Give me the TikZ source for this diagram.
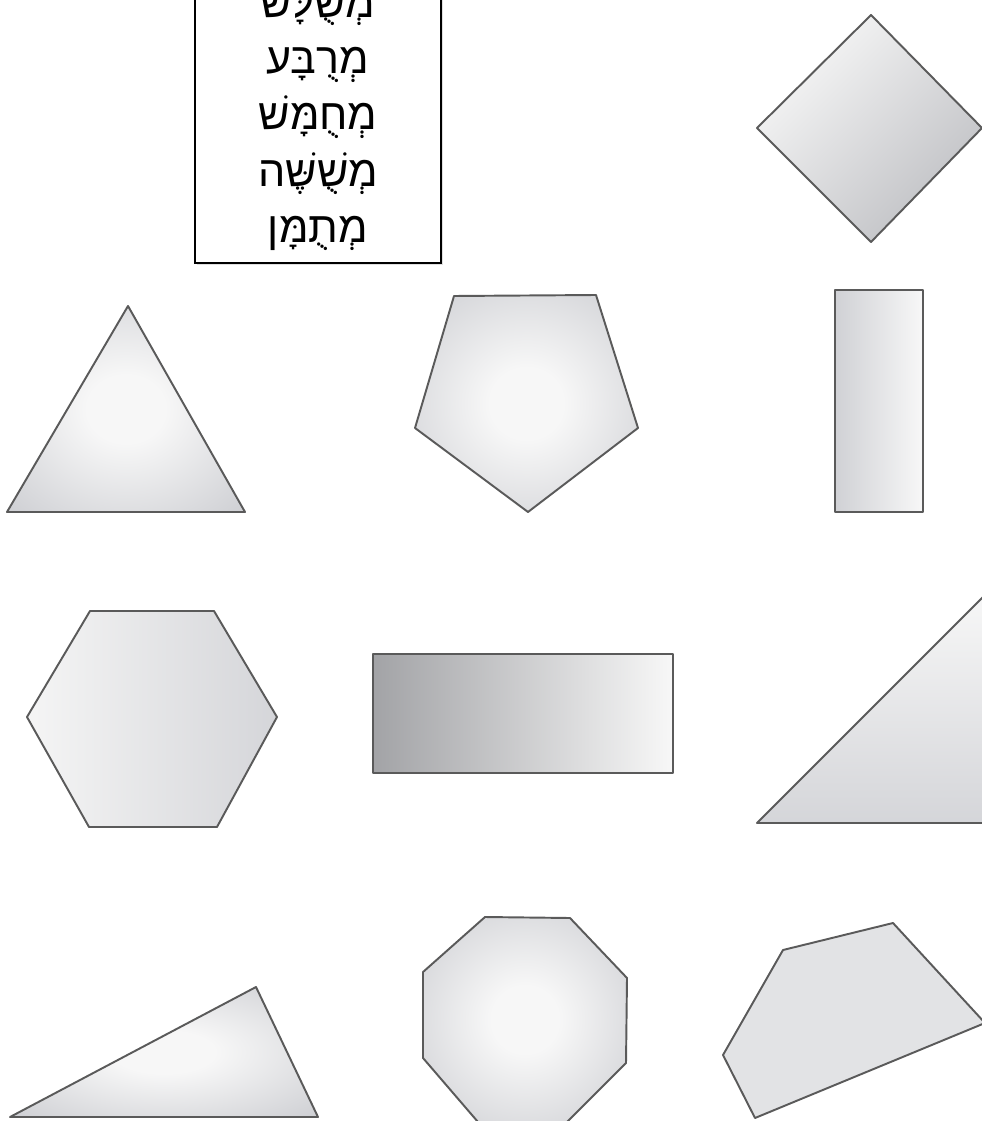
\documentclass[tikz,border=0pt]{standalone}
\usepackage{fontspec}
\usetikzlibrary{shadows}
\newfontfamily\hebfont[Script=Hebrew]{Liberation Sans}
\TeXXeTstate=1
\definecolor{edgegray}{RGB}{90,90,90}
\definecolor{shapegray}{RGB}{208,209,213}
\definecolor{flatgray}{RGB}{226,227,229}
\pgfdeclareradialshading{softglow}{\pgfpoint{0bp}{0bp}}{color(0bp)=(white!97!black);
    color(8bp)=(white!97!black); color(34bp)=(shapegray); color(50bp)=(shapegray)}

\begin{document}
\begin{tikzpicture}[x=0.02cm, y=-0.02cm,
    outline/.style={draw=edgegray, line width=1.1pt, line join=round},
    glow/.style={outline, shading=softglow},
    ramp/.style={outline, left color=#1, right color=white!97!black},
    namebox/.style={rectangle, draw=black, line width=1pt, fill=white, minimum width=4.92cm,
        align=center, inner ysep=7pt, font=\hebfont\fontsize{24.5pt}{32pt}\selectfont,
        drop shadow={shadow xshift=1pt, shadow yshift=-1pt, fill=black!25}}]
    \useasboundingbox (0,0) rectangle (982,1121);

    % list of names
    \node[namebox, anchor=south] (shapenames) at (318,264)
        {\beginR מְשֻׁלָּשׁ\endR\\ \beginR מְרֻבָּע\endR\\ \beginR מְחֻמָּשׁ\endR\\
         \beginR מְשֻׁשֶּׁה\endR\\ \beginR מְתֻמָּן\endR};

    % top row
    \draw[outline, top color=white!97!black, bottom color=shapegray!92!black, shading angle=45]
        (871,15) -- (982,128) -- (871,242) -- (757,128) -- cycle;

    % second row
    \draw[glow] (128,306) -- (245,512) -- (7,512) -- cycle;
    \draw[glow] (454,296) -- (596,295) -- (638,428) -- (528,512) -- (415,428) -- cycle;
    \draw[ramp=shapegray, line width=1.5pt] (835,290) rectangle (923,512);

    % third row
    \draw[outline, left color=white!96!black, right color=shapegray!90!white]
        (90,611) -- (214,611) -- (277,717) -- (217,827) -- (89,827) -- (27,717) -- cycle;
    \draw[ramp=shapegray!78!black, line width=1.5pt] (373,654) rectangle (673,773);
    \draw[outline, top color=white!97!black, bottom color=shapegray!90!white]
        (757,823) -- (990,590) -- (990,823) -- cycle;

    % bottom row
    \draw[glow] (10,1117) -- (256,987) -- (318,1117) -- cycle;
    \draw[glow] (485,917) -- (570,918) -- (627,978) -- (626,1063) -- (567,1122)
        -- (478,1122) -- (423,1058) -- (423,972) -- cycle;
    \draw[outline, fill=flatgray]
        (783,950) -- (893,923) -- (985,1023) -- (755,1118) -- (723,1055) -- cycle;
\end{tikzpicture}
\end{document}
